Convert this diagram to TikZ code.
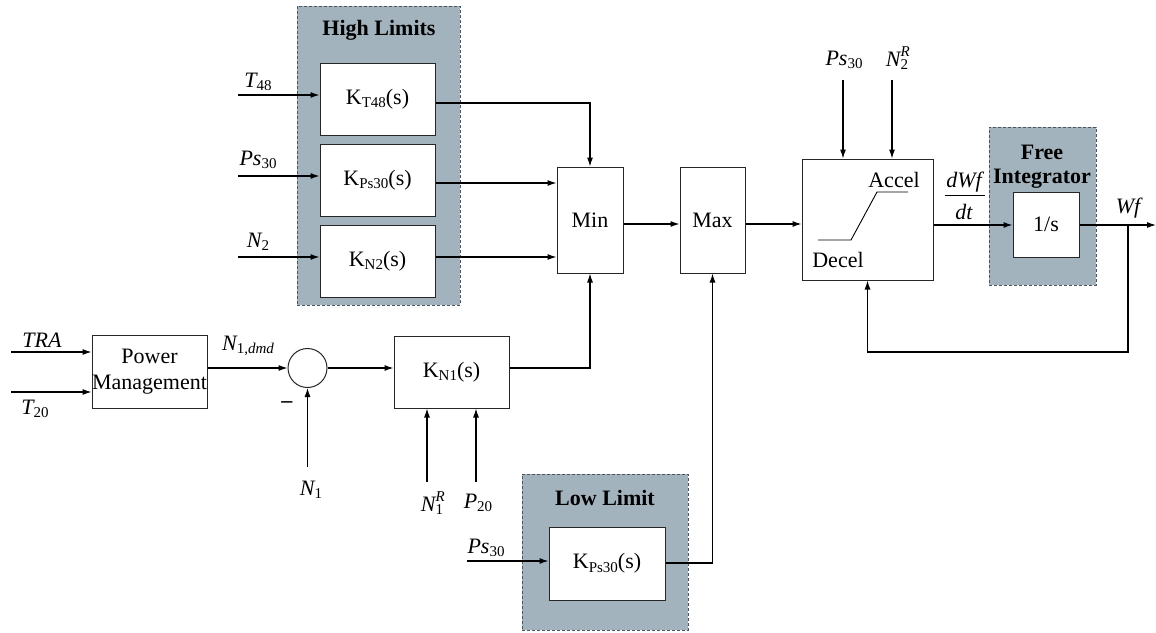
\documentclass[tikz,border=0pt]{standalone}
\usepackage{fontspec}
\setmainfont{Liberation Serif}
\usetikzlibrary{arrows.meta}
\definecolor{gcol}{RGB}{163,179,190}
\definecolor{gedge}{RGB}{75,85,95}
\newcommand{\lsub}[1]{\raisebox{-0.35ex}{\fontsize{15}{17}\selectfont #1}}
\newcommand{\lsubsup}[2]{\rlap{\raisebox{1.0ex}{\fontsize{15}{17}\selectfont #2}}\raisebox{-0.35ex}{\fontsize{15}{17}\selectfont #1}\hspace{5pt}}
\begin{document}
\begin{tikzpicture}[x=1pt,y=-1pt,
  font=\fontsize{22}{25}\selectfont,
  blk/.style={draw=black!85,fill=white,line width=1pt,inner sep=0pt},
  grp/.style={draw=gedge,fill=gcol,dashed,dash pattern=on 3pt off 2pt,line width=0.9pt,inner sep=0pt,anchor=north west},
  arr/.style={-{Latex[length=9pt,width=6pt]},line width=1.1pt},
  ln/.style={line width=1.1pt},
  lbl/.style={inner sep=0pt},
  ttl/.style={inner sep=0pt,font=\fontsize{22}{25}\selectfont\bfseries}]
\useasboundingbox (0,0) rectangle (1156,632);
\fill[white] (0,0) rectangle (1156,632);
% groups
\node[grp,minimum width=163pt,minimum height=299pt] (hl) at (297,6) {};
\node[ttl] (hlt) at (379,30) {High Limits};
\node[grp,minimum width=107pt,minimum height=158pt] (fi) at (989,127) {};
\node[ttl] (fit1) at (1042,152) {Free};
\node[ttl] (fit2) at (1042,179) {Integrator};
\node[grp,minimum width=166pt,minimum height=156pt] (ll) at (522,474) {};
\node[ttl] (llt) at (605,498) {Low Limit};
% blocks
\node[blk,minimum width=115pt,minimum height=72pt] (kt48) at (377.5,99) {K\lsub{T48}(s)};
\node[blk,minimum width=115pt,minimum height=72pt] (kps) at (377.5,180) {K\lsub{Ps30}(s)};
\node[blk,minimum width=115pt,minimum height=72pt] (kn2) at (377.5,261) {K\lsub{N2}(s)};
\node[blk,minimum width=66pt,minimum height=106pt] (min) at (590,220) {Min};
\node[blk,minimum width=65pt,minimum height=106pt] (max) at (712.5,220) {Max};
\node[blk,minimum width=131pt,minimum height=121pt] (acc) at (867.5,219.5) {};
\node[blk,minimum width=66pt,minimum height=65pt] (int) at (1046,224.5) {1/s};
\node[blk,minimum width=115pt,minimum height=73pt,align=center,font=\fontsize{22}{26}\selectfont] (pm) at (149.5,371.5) {Power\\Management};
\node[blk,circle,minimum size=39pt] (sum) at (307.5,368) {};
\node[blk,minimum width=115pt,minimum height=72pt] (kn1) at (451.5,372) {K\lsub{N1}(s)};
\node[blk,minimum width=116pt,minimum height=73pt] (kpl) at (607,563.5) {K\lsub{Ps30}(s)};
% inside accel/decel block
\node[lbl] (acct) at (894,180) {Accel};
\node[lbl] (dect) at (838,260) {Decel};
\draw[line width=0.9pt] (818,240) -- (851,240) -- (877,192) -- (908,192);
% input start points
\coordinate (iT48) at (238,95);
\coordinate (iPs) at (238,176);
\coordinate (iN2) at (238,257);
\coordinate (iTRA) at (11,352);
\coordinate (iT20) at (11,392);
\coordinate (iN1) at (307.5,467);
\coordinate (iN1R) at (427,482);
\coordinate (iP20) at (476,482);
\coordinate (iPsl) at (467,561);
\coordinate (iPsa) at (843,80);
\coordinate (iN2R) at (892,80);
\coordinate (oWf) at (1156,225);
\coordinate (fb) at (1128,225);
% labels
\node[lbl] (lT48) at (258,82) {{\itshape T}\lsub{48}};
\node[lbl] (lPs) at (258,160) {{\itshape Ps}\lsub{30}};
\node[lbl] (lN2) at (258,242) {{\itshape N}\lsub{2}};
\node[lbl] (lTRA) at (42,340) {\itshape TRA};
\node[lbl] (lT20) at (35,409) {{\itshape T}\lsub{20}};
\node[lbl] (lN1d) at (248,346) {{\itshape N}\lsub{1,{\itshape dmd}}};
\node[lbl] (lmin) at (287,405) {\textbf{--}};
\node[lbl] (lN1) at (311,490) {{\itshape N}\lsub{1}};
\node[lbl] (lN1R) at (432,503) {{\itshape N}\lsubsup{1}{\itshape R}};
\node[lbl] (lP20) at (478,503) {{\itshape P}\lsub{20}};
\node[lbl] (lPsl) at (486,548) {{\itshape Ps}\lsub{30}};
\node[lbl] (lPsa) at (844,60) {{\itshape Ps}\lsub{30}};
\node[lbl] (lN2R) at (897,58) {{\itshape N}\lsubsup{2}{\itshape R}};
\node[lbl] (lWf) at (1128,208) {\itshape Wf};
\node[lbl] (ldwn) at (964,182) {\itshape dWf};
\node[lbl] (ldwd) at (964,212) {\itshape dt};
\draw[line width=0.9pt] (945,195) -- (985,195);
% connectors
\draw[arr] (iT48) -- (iT48 -| kt48.west);
\draw[arr] (iPs) -- (iPs -| kps.west);
\draw[arr] (iN2) -- (iN2 -| kn2.west);
\draw[arr] (kt48.east |- 0,103) -| (min.north);
\draw[arr] (kps.east |- 0,183) -- (min.west |- 0,183);
\draw[arr] (kn2.east |- 0,257) -- (min.west |- 0,257);
\draw[arr] (min.east |- 0,224) -- (max.west |- 0,224);
\draw[arr] (max.east |- 0,224) -- (acc.west |- 0,224);
\draw[arr] (iPsa) -- (iPsa |- acc.north);
\draw[arr] (iN2R) -- (iN2R |- acc.north);
\draw[arr] (acc.east |- 0,225) -- (int.west |- 0,225);
\draw[arr] (int.east |- 0,225) -- (oWf);
\draw[arr] (fb) -- (1128,352) -| (acc.south);
\draw[arr] (iTRA) -- (iTRA -| pm.west);
\draw[arr] (iT20) -- (iT20 -| pm.west);
\draw[arr] (pm.east |- sum.west) -- (sum.west);
\draw[arr] (iN1) -- (sum.south);
\draw[arr] (sum.east) -- (sum.east -| kn1.west);
\draw[arr] (kn1.east |- 0,368) -| (min.south);
\draw[arr] (iN1R) -- (iN1R |- kn1.south);
\draw[arr] (iP20) -- (iP20 |- kn1.south);
\draw[arr] (iPsl) -- (iPsl -| kpl.west);
\draw[arr] (kpl.east |- 0,563) -| (max.south);
\end{tikzpicture}
\end{document}
